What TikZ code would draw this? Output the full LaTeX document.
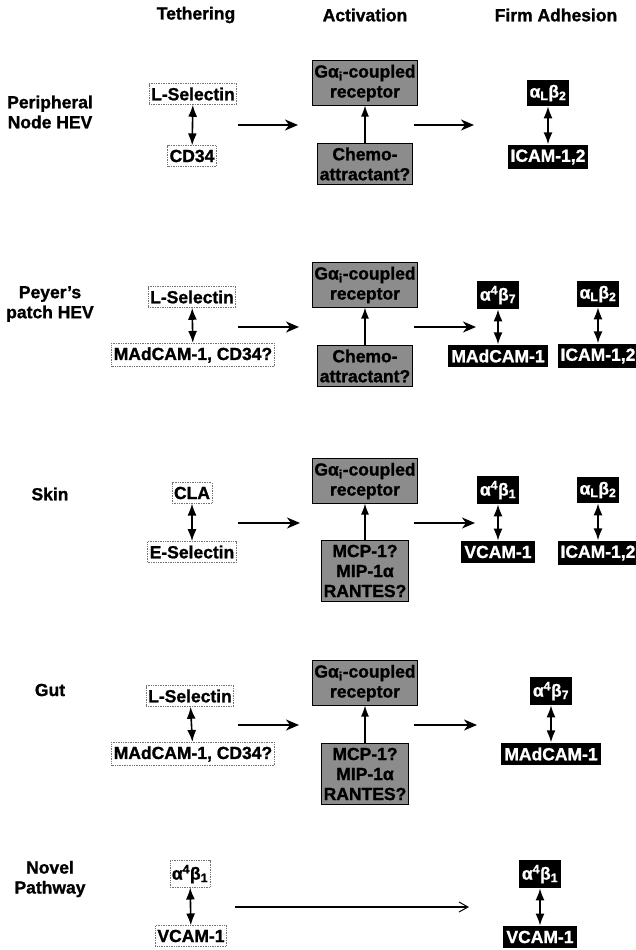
\documentclass[tikz,border=0pt]{standalone}
\usepackage{fontspec}
\setmainfont{Liberation Sans}[BoldFeatures={FakeBold=1.2}]
\usetikzlibrary{arrows.meta}
\newcommand\myfont{\fontsize{17.5}{20}\selectfont\bfseries}
\newcommand\aLbt{α\textsubscript{L}β\textsubscript{2}}
\newcommand\afb[1]{α\textsuperscript{4}β\textsubscript{#1}}
\newcommand\Gai{Gα\textsubscript{i}-coupled}
\tikzset{
  lbl/.style={font=\myfont, align=center},
  teth/.style={font=\myfont, draw=black!55, densely dotted, line width=0.7pt, fill=white, inner xsep=2pt, inner ysep=4pt},
  act/.style={font=\myfont, draw=black, line width=0.8pt, fill=black!45, align=center, inner xsep=2pt, inner ysep=4pt},
  firm/.style={font=\myfont, fill=black, text=white, inner xsep=3pt, inner ysep=5pt},
  harr/.style={-{Stealth[length=13pt,width=11pt,inset=4pt]}, line width=1.6pt},
  darr/.style={{Latex[length=12pt,width=9pt]}-{Latex[length=12pt,width=9pt]}, line width=1.6pt},
  uarr/.style={-{Latex[length=11pt,width=8pt]}, line width=1.3pt},
  larr/.style={-{Straight Barb[length=9pt,width=10pt,line width=1pt]}, line width=1.6pt},
}
\begin{document}
\begin{tikzpicture}[x=1pt,y=-1pt]
\useasboundingbox (0,0) rectangle (636,950);
% headers
\node[lbl] (h1) at (196,15) {Tethering};
\node[lbl] (h2) at (365,15) {Activation};
\node[lbl] (h3) at (556,15) {Firm Adhesion};
% row labels
\node[lbl] (r1) at (50,112) {Peripheral\\Node HEV};
\node[lbl] (r2) at (50,304) {Peyer's\\patch HEV};
\node[lbl] (r3) at (50,494) {Skin};
\node[lbl] (r4) at (50,690) {Gut};
\node[lbl] (r5) at (50,879) {Novel\\Pathway};

% ---------- Row 1 ----------
\node[teth] (t1a) at (193,94) {L-Selectin};
\node[teth] (t1b) at (192,156) {CD34};
\draw[darr] (t1a) -- (t1b);
\coordinate (a1s) at (238,125); \coordinate (a1e) at (298,125);
\draw[harr] (a1s) -- (a1e);
\node[act] (g1) at (365,83) {\Gai\\receptor};
\node[act] (c1) at (365,164) {Chemo-\\attractant?};
\draw[uarr] (c1) -- (g1);
\coordinate (b1s) at (414,125); \coordinate (b1e) at (474,125);
\draw[harr] (b1s) -- (b1e);
\node[firm] (f1a) at (548,93) {\aLbt};
\node[firm] (f1b) at (548,157) {ICAM-1,2};
\draw[darr] (f1a) -- (f1b);

% ---------- Row 2 ----------
\node[teth] (t2a) at (192,297) {L-Selectin};
\node[teth] (t2b) at (193,355) {MAdCAM-1, CD34?};
\draw[darr] (t2a) -- (t2b);
\coordinate (a2s) at (238,327); \coordinate (a2e) at (299,327);
\draw[harr] (a2s) -- (a2e);
\node[act] (g2) at (365,285) {\Gai\\receptor};
\node[act] (c2) at (365,366) {Chemo-\\attractant?};
\draw[uarr] (c2) -- (g2);
\coordinate (b2s) at (414,327); \coordinate (b2e) at (476,327);
\draw[harr] (b2s) -- (b2e);
\node[firm] (f2a) at (498,295) {\afb{7}};
\node[firm] (f2b) at (498,356) {MAdCAM-1};
\draw[darr] (f2a) -- (f2b);
\node[firm] (f2c) at (598,294) {\aLbt};
\node[firm] (f2d) at (598,356) {ICAM-1,2};
\draw[darr] (f2c) -- (f2d);

% ---------- Row 3 ----------
\node[teth] (t3a) at (192,493) {CLA};
\node[teth] (t3b) at (192,552) {E-Selectin};
\draw[darr] (t3a) -- (t3b);
\coordinate (a3s) at (238,523); \coordinate (a3e) at (300,523);
\draw[harr] (a3s) -- (a3e);
\node[act] (g3) at (365,481) {\Gai\\receptor};
\node[act] (c3) at (365,571) {MCP-1?\\MIP-1α\\RANTES?};
\draw[uarr] (c3) -- (g3);
\coordinate (b3s) at (414,523); \coordinate (b3e) at (475,523);
\draw[harr] (b3s) -- (b3e);
\node[firm] (f3a) at (498,490) {\afb{1}};
\node[firm] (f3b) at (498,552) {VCAM-1};
\draw[darr] (f3a) -- (f3b);
\node[firm] (f3c) at (598,490) {\aLbt};
\node[firm] (f3d) at (598,553) {ICAM-1,2};
\draw[darr] (f3c) -- (f3d);

% ---------- Row 4 ----------
\node[teth] (t4a) at (190,696) {L-Selectin};
\node[teth] (t4b) at (193,754) {MAdCAM-1, CD34?};
\draw[darr] (t4a) -- (t4b);
\coordinate (a4s) at (238,725); \coordinate (a4e) at (299,725);
\draw[harr] (a4s) -- (a4e);
\node[act] (g4) at (365,683) {\Gai\\receptor};
\node[act] (c4) at (365,774) {MCP-1?\\MIP-1α\\RANTES?};
\draw[uarr] (c4) -- (g4);
\coordinate (b4s) at (414,725); \coordinate (b4e) at (477,725);
\draw[harr] (b4s) -- (b4e);
\node[firm] (f4a) at (551,691) {\afb{7}};
\node[firm] (f4b) at (551,754) {MAdCAM-1};
\draw[darr] (f4a) -- (f4b);

% ---------- Row 5 ----------
\node[teth] (t5a) at (190,874) {\afb{1}};
\node[teth] (t5b) at (191,936) {VCAM-1};
\draw[darr] (t5a) -- (t5b);
\coordinate (a5s) at (235,907); \coordinate (a5e) at (469,907);
\draw[larr] (a5s) -- (a5e);
\node[firm] (f5a) at (540,874) {\afb{1}};
\node[firm] (f5b) at (540,937) {VCAM-1};
\draw[darr] (f5a) -- (f5b);
\end{tikzpicture}
\end{document}
